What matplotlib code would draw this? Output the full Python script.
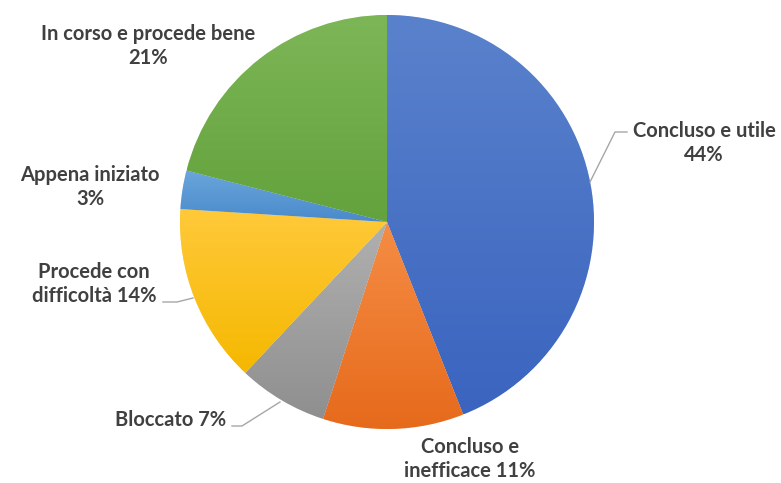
import matplotlib
matplotlib.use("Agg")
import matplotlib.pyplot as plt
import numpy as np
from matplotlib.colors import to_rgb

labels = ["Concluso e utile", "Concluso e inefficace", "Bloccato",
          "Procede con difficoltà", "Appena iniziato", "In corso e procede bene"]
values = [44, 11, 7, 14, 3, 21]
label_texts = ["Concluso e utile\n44%", "Concluso e\ninefficace 11%", "Bloccato 7%",
               "Procede con\ndifficoltà 14%", "Appena iniziato\n3%", "In corso e procede bene\n21%"]
colors_top = ["#5A82CC", "#F58D45", "#B0B0B0", "#FFC93A", "#6AA6DC", "#7DB657"]
colors_bot = ["#3A64BF", "#E66A1C", "#8F8F8F", "#F5B800", "#4A8ACB", "#63A23C"]

W, H = 781, 483
fig = plt.figure(figsize=(W / 100, H / 100), dpi=100)
ax = fig.add_axes([0, 0, 1, 1])

cx, cy, r = 387, H - 222, 207
wedges, _ = ax.pie(values, center=(cx, cy), radius=r, startangle=90,
                   counterclock=False, colors=colors_bot,
                   wedgeprops=dict(linewidth=0.5, edgecolor="white"))

# vertical gradient fill per wedge
for w, ct, cb in zip(wedges, colors_top, colors_bot):
    ext = w.get_path().get_extents(w.get_patch_transform())
    x0, y0, x1, y1 = ext.x0, ext.y0, ext.x1, ext.y1
    t = np.linspace(0, 1, 256)[:, None]
    top = np.array(to_rgb(ct)); bot = np.array(to_rgb(cb))
    grad = (top[None, :] * (1 - t) + bot[None, :] * t)[:, None, :]
    grad = np.repeat(grad, 2, axis=1)
    im = ax.imshow(grad, extent=(x0, x1, y0, y1), origin="upper",
                   aspect="auto", zorder=1.5, interpolation="bilinear")
    im.set_clip_path(w)
    w.set_zorder(1)

ax.set_xlim(0, W)
ax.set_ylim(0, H)
ax.set_aspect("equal")
ax.axis("off")

tc = "#404040"
font = dict(family="Lato", fontweight="bold", fontsize=14.5, color=tc,
            ha="center", va="center", linespacing=1.3)
pos = [(704, 143), (470, 459), (171, 420), (94, 284), (90, 187), (148, 46)]
for txt, (x, y) in zip(label_texts, pos):
    ax.text(x, H - y, txt, zorder=5, **font)

lc = "#A6A6A6"
leaders = [
    [(627, 132), (615, 132), (590, 182)],
    [(163, 302), (177, 302), (193, 298)],
    [(232, 426), (242, 426), (280, 402)],
]
for pts in leaders:
    xs = [p[0] for p in pts]
    ys = [H - p[1] for p in pts]
    ax.plot(xs, ys, color=lc, lw=1, zorder=4)

fig.savefig("out.png", dpi=100, facecolor="white")
